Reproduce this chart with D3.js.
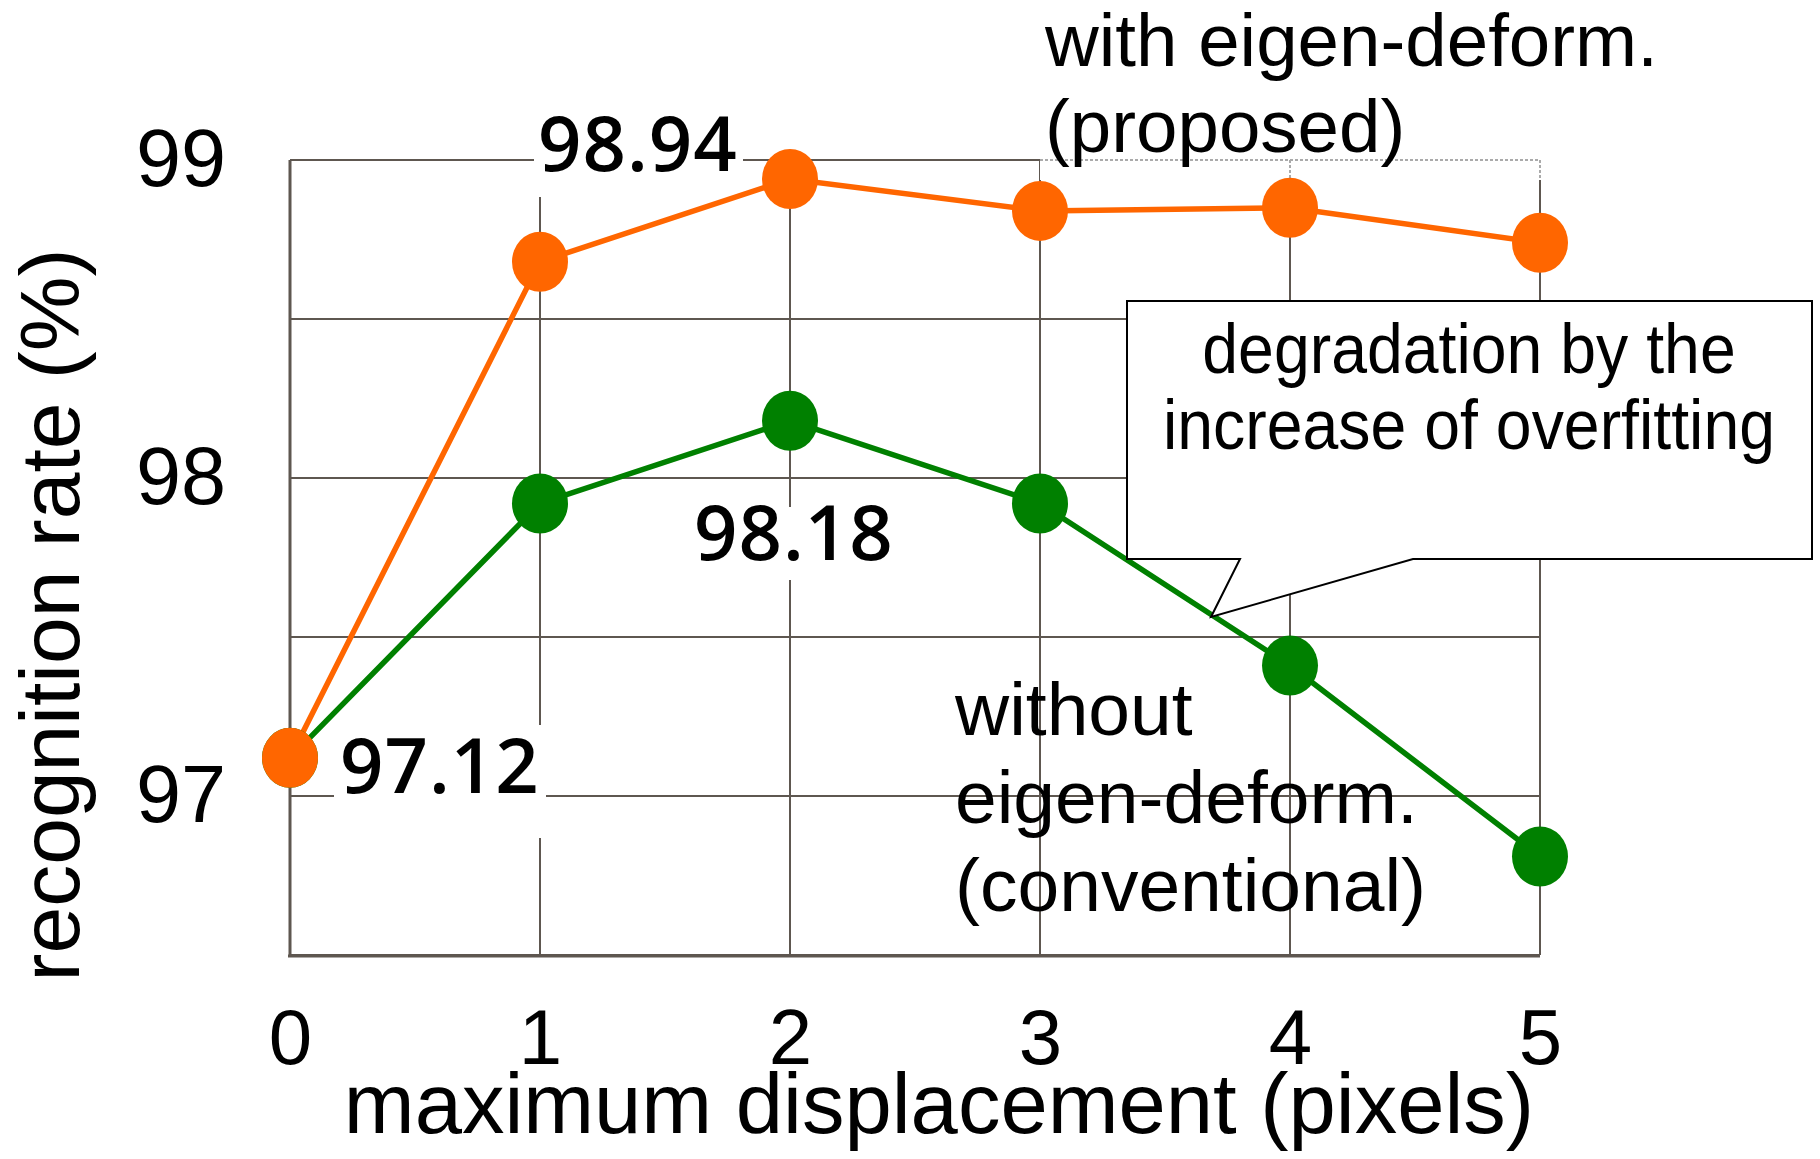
<!DOCTYPE html>
<html>
<head>
<meta charset="utf-8">
<script src="https://cdn.jsdelivr.net/npm/d3@7"></script>
<style>
  html, body { margin: 0; padding: 0; background: #fff; }
  svg { display: block; font-family: "Liberation Sans", Arial, sans-serif; }
</style>
</head>
<body>
<svg id="chart" width="1820" height="1159"></svg>
<script>
// ---- data ----
const displacement = [0, 1, 2, 3, 4, 5];
const withEigen    = [97.12, 98.68, 98.94, 98.84, 98.85, 98.74];   // proposed
const withoutEigen = [97.12, 97.92, 98.18, 97.92, 97.41, 96.81];   // conventional
const yTickValues  = [97, 98, 99];
const yGridValues  = [96.5, 97, 97.5, 98, 98.5, 99];
const xTickLabels  = ["0", "1", "2", "3", "4", "5"];
const valueLabels  = ["98.94", "98.18", "97.12"];

(function () {
const svg = d3.select("#chart");
const pLeft = 290, pRight = 1540, pTop = 160, pBottom = 955;
const x = d3.scaleLinear().domain([0, 5]).range([pLeft, pRight]);
const y = d3.scaleLinear().domain([96.5, 99]).range([pBottom, pTop]);
const gridColor = "#5e5750";

// ---- grid ----
const grid = svg.append("g");
grid.selectAll("line.h").data(yGridValues).join("line")
  .attr("x1", pLeft).attr("x2", pRight)
  .attr("y1", d => y(d)).attr("y2", d => y(d))
  .attr("stroke", gridColor).attr("stroke-width", 2);
grid.selectAll("line.v").data(displacement).join("line")
  .attr("x1", d => x(d)).attr("x2", d => x(d))
  .attr("y1", pTop).attr("y2", pBottom)
  .attr("stroke", gridColor).attr("stroke-width", d => d === 0 ? 3 : 2);
grid.append("line").attr("x1", pLeft - 2).attr("x2", pRight)
  .attr("y1", pBottom + 1).attr("y2", pBottom + 1)
  .attr("stroke", gridColor).attr("stroke-width", 3);

// ---- axes (labels only) ----
const yAxis = d3.axisLeft(y).tickValues(yTickValues).tickSize(0).tickPadding(64).tickFormat(d3.format("d"));
const gy = svg.append("g").attr("transform", `translate(${pLeft},0)`).call(yAxis);
gy.select(".domain").remove();
gy.selectAll("text").attr("font-size", 81).attr("fill", "#000")
  .attr("font-family", "'Liberation Sans', Arial, sans-serif");

const xAxis = d3.axisBottom(x).tickValues(displacement).tickSize(0).tickPadding(54)
  .tickFormat((d, i) => xTickLabels[i]);
const gx = svg.append("g").attr("transform", `translate(0,${pBottom})`).call(xAxis);
gx.select(".domain").remove();
gx.selectAll("text").attr("font-size", 78).attr("fill", "#000")
  .attr("font-family", "'Liberation Sans', Arial, sans-serif");

// axis titles
svg.append("text").attr("x", (pLeft + pRight) / 2 + 24).attr("y", 1133)
  .attr("text-anchor", "middle").attr("font-size", 85)
  .text("maximum displacement (pixels)");
svg.append("text").attr("transform", "translate(79,615) rotate(-90)")
  .attr("text-anchor", "middle").attr("font-size", 84)
  .text("recognition rate (%)");

// ---- label of proposed series (covers top grid) ----
svg.append("rect").attr("x", 1040).attr("y", 0).attr("width", 505).attr("height", 180).attr("fill", "#fff");
svg.append("line").attr("x1", 1040).attr("x2", pRight).attr("y1", pTop).attr("y2", pTop)
  .attr("stroke", "#aaa").attr("stroke-width", 2).attr("stroke-dasharray", "3,2");
[4, 5].forEach(v => {
  svg.append("line").attr("x1", x(v)).attr("x2", x(v)).attr("y1", pTop).attr("y2", 180)
    .attr("stroke", "#aaa").attr("stroke-width", 2).attr("stroke-dasharray", "3,2");
});
svg.append("text").attr("x", 1045).attr("y", 66).attr("font-size", 74.5).text("with eigen-deform.");
svg.append("text").attr("x", 1045).attr("y", 152).attr("font-size", 74.5).text("(proposed)");

// ---- value labels white backgrounds ----
const labelBoxes = [
  { x0: 534, x1: 743, y0: 100, y1: 197 },
  { x0: 690, x1: 900, y0: 507, y1: 580 },
  { x0: 334, x1: 546, y0: 725, y1: 838 }
];
const labelPos = [
  { tx: 538, ty: 171 },
  { tx: 694, ty: 560 },
  { tx: 340, ty: 793 }
];
labelBoxes.forEach(b => {
  svg.append("rect").attr("x", b.x0).attr("y", b.y0).attr("width", b.x1 - b.x0).attr("height", b.y1 - b.y0).attr("fill", "#fff");
});

// ---- series lines ----
const line = d3.line().x((d, i) => x(displacement[i])).y(d => y(d));
svg.append("path").datum(withoutEigen).attr("d", line)
  .attr("fill", "none").attr("stroke", "#008000").attr("stroke-width", 5.5);

// ---- callout ----
const callout = svg.append("g");
callout.append("path")
  .attr("d", "M1127,301 L1812,301 L1812,559 L1413,559 L1211,617 L1240,559 L1127,559 Z")
  .attr("fill", "#fff").attr("stroke", "#000").attr("stroke-width", 2);
callout.append("text").attr("transform", "translate(1469,373) scale(0.92,1)").attr("text-anchor", "middle")
  .attr("font-size", 70).text("degradation by the");
callout.append("text").attr("transform", "translate(1469,449) scale(0.92,1)").attr("text-anchor", "middle")
  .attr("font-size", 70).text("increase of overfitting");

svg.append("path").datum(withEigen).attr("d", line)
  .attr("fill", "none").attr("stroke", "#ff6600").attr("stroke-width", 5.5);

// ---- dots ----
svg.selectAll("ellipse.g").data(withoutEigen).join("ellipse")
  .attr("cx", (d, i) => x(displacement[i])).attr("cy", d => y(d))
  .attr("rx", 28).attr("ry", 30).attr("fill", "#008000");
svg.selectAll("ellipse.o").data(withEigen).join("ellipse")
  .attr("cx", (d, i) => x(displacement[i])).attr("cy", d => y(d))
  .attr("rx", 28).attr("ry", 30).attr("fill", "#ff6600");

// ---- value label texts ----
valueLabels.forEach((t, i) => {
  svg.append("text").attr("x", labelPos[i].tx).attr("y", labelPos[i].ty)
    .attr("font-family", "'Open Sans', 'Noto Sans', sans-serif")
    .attr("font-size", 76).attr("font-weight", 600).attr("letter-spacing", 1)
    .text(t);
});

// ---- conventional series label ----
const conv = ["without", "eigen-deform.", "(conventional)"];
conv.forEach((t, i) => {
  svg.append("text").attr("x", 955).attr("y", 735 + i * 88).attr("font-size", 75).text(t);
});
})();
</script>
</body>
</html>
